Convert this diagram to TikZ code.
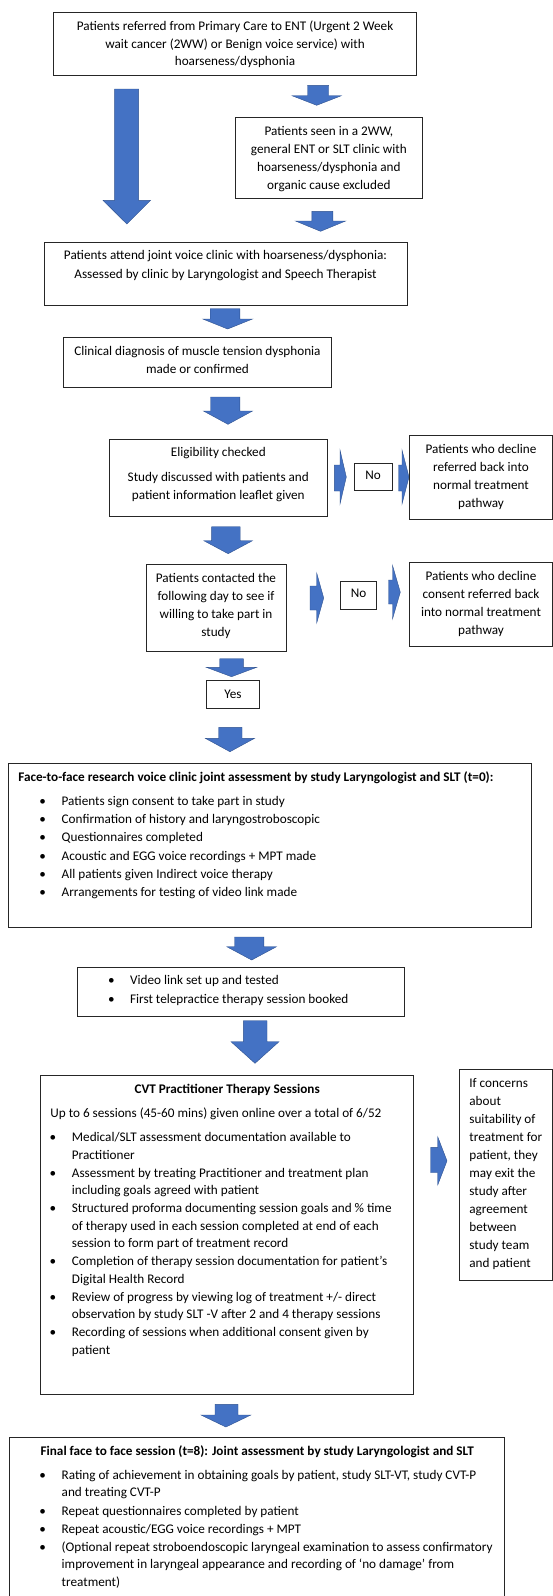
\documentclass[tikz,border=0pt]{standalone}
\usepackage{fontspec}
\setmainfont{Carlito}
\definecolor{arrfill}{HTML}{4472C4}
\definecolor{arrline}{HTML}{2F528F}
\tikzset{
  boxst/.style={draw=black!85, line width=0.8pt, inner sep=0pt, outer sep=0pt, rectangle},
  txt/.style={inner sep=0pt, outer sep=0pt, font=\fontsize{13.2}{18}\selectfont},
  blockarrow/.style={fill=arrfill, draw=arrline, line width=0.4pt, line join=miter},
}
\newcommand\mkbox[5]{\node[boxst, minimum width={(#4-#2)*1pt}, minimum height={(#5-#3)*1pt}] (#1) at ({(#2+#4)/2},{(#3+#5)/2}) {};}
\newcommand\darr[8]{\path[blockarrow] (#2,#4) -- (#3,#4) -- (#3,#7) -- (#6,#7) -- ({(#5+#6)/2},#8) -- (#5,#7) -- (#2,#7) -- cycle; \coordinate (#1) at ({(#5+#6)/2},#8);}
\newcommand\rarr[8]{\path[blockarrow] (#2,#5) -- (#3,#5) -- (#3,#7) -- (#4,{(#7+#8)/2}) -- (#3,#8) -- (#3,#6) -- (#2,#6) -- cycle; \coordinate (#1) at (#4,{(#7+#8)/2});}
\newcommand\lineat[4]{\node[txt,anchor=mid] (#1) at (#2,#3) {#4};}
\newcommand\lineatw[4]{\node[txt,anchor=mid west] (#1) at (#2,#3) {#4};}
\newcommand\bulline[5]{\node[txt,anchor=mid] (#1d) at (#2,#4) {\textbullet}; \node[txt,anchor=mid west] (#1) at (#3,#4) {#5};}
\begin{document}
\begin{tikzpicture}[x=1pt,y=-1pt]
\useasboundingbox (0,0) rectangle (553,1596);
\fill[white] (0,0) rectangle (553,1596);

% Box 1
\mkbox{b1}{53.6}{12.7}{416.5}{75.3}
\lineat{b1a}{235}{27.7}{Patients referred from Primary Care to ENT (Urgent 2 Week}
\lineat{b1b}{235}{45.7}{wait cancer (2WW) or Benign voice service) with}
\lineat{b1c}{235}{63.3}{hoarseness/dysphonia}

\darr{a0}{114.6}{138.6}{89}{103}{150.6}{200.3}{224}
\darr{a1}{307.5}{328.7}{85.3}{292}{341.4}{95.7}{105.3}

% Box 2
\mkbox{b2}{235.2}{117.3}{422.5}{198.3}
\lineat{b2a}{328.9}{132.7}{Patients seen in a 2WW,}
\lineat{b2b}{328.9}{150.7}{general ENT or SLT clinic with}
\lineat{b2c}{328.9}{168.7}{hoarseness/dysphonia and}
\lineat{b2d}{328.9}{186.7}{organic cause excluded}

\darr{a2}{311.8}{332.9}{211.3}{295.5}{345.6}{221}{231.3}

% Box 3
\mkbox{b3}{44.1}{242.3}{407}{305}
\lineat{b3a}{225.5}{256.7}{Patients attend joint voice clinic with hoarseness/dysphonia:}
\lineat{b3b}{225.5}{275.7}{Assessed by clinic by Laryngologist and Speech Therapist}

\darr{a3}{210.2}{239.8}{308.7}{202.8}{252.5}{319}{329}

% Box 4
\mkbox{b4}{63.8}{337.7}{331.2}{387}
\lineat{b4a}{197.5}{352.7}{Clinical diagnosis of muscle tension dysphonia}
\lineat{b4b}{197.5}{370.7}{made or confirmed}

\darr{a4}{210.5}{239.8}{397}{203.5}{252.5}{411}{424.3}

% Box 5
\mkbox{b5}{109}{439}{327.6}{516}
\lineat{b5a}{218.3}{454}{Eligibility checked}
\lineat{b5b}{218.3}{479.3}{Study discussed with patients and}
\lineat{b5c}{218.3}{497.3}{patient information leaflet given}

\rarr{n1a}{334.3}{340}{346.3}{465}{491}{450}{504}
\mkbox{n1}{354}{463.3}{392.3}{490.7}
\lineat{n1t}{373.2}{477}{No}
\rarr{n1b}{398.5}{402}{409}{465}{491}{450}{504}

\mkbox{d1}{409.5}{435.7}{552.3}{519}
\lineat{d1a}{481}{450.7}{Patients who decline}
\lineat{d1b}{481}{468.7}{referred back into}
\lineat{d1c}{481}{487}{normal treatment}
\lineat{d1d}{481}{505}{pathway}

\darr{a5}{211.6}{240.2}{526.7}{203.8}{252.5}{540.7}{553.7}

% Box 6
\mkbox{b6}{146.4}{564.3}{286}{651.7}
\lineat{b6a}{216}{580}{Patients contacted the}
\lineat{b6b}{216}{598}{following day to see if}
\lineat{b6c}{216}{616}{willing to take part in}
\lineat{b6d}{216}{634}{study}

\rarr{n2a}{310}{316.7}{323.7}{586}{610}{573}{623}
\mkbox{n2}{340.5}{581}{376.7}{609.3}
\lineat{n2t}{358.6}{595}{No}
\rarr{n2b}{388.5}{392.5}{400.3}{580}{604}{565.3}{619}

\mkbox{d2}{409.5}{562.3}{552.3}{646}
\lineat{d2a}{481}{577.7}{Patients who decline}
\lineat{d2b}{481}{596}{consent referred back}
\lineat{d2c}{481}{614}{into normal treatment}
\lineat{d2d}{481}{632}{pathway}

\darr{a6}{219.7}{243.3}{658.7}{206.3}{256.7}{667.3}{676.7}
\mkbox{yes}{206.7}{680.3}{259.6}{708.3}
\lineat{yest}{233}{695.7}{Yes}

\darr{a7}{218.7}{242}{727.3}{205.3}{254.6}{738.3}{751.7}

% Box 7
\mkbox{b7}{8.8}{763.7}{531.5}{927.3}
\lineatw{b7t}{18.3}{779.3}{\bfseries Face-to-face research voice clinic joint assessment by study Laryngologist and SLT (t=0):}
\bulline{b7i1}{42.7}{61.7}{803.3}{Patients sign consent to take part in study}
\bulline{b7i2}{42.7}{61.7}{821.3}{Confirmation of history and laryngostroboscopic}
\bulline{b7i3}{42.7}{61.7}{839.3}{Questionnaires completed}
\bulline{b7i4}{42.7}{61.7}{857.7}{Acoustic and EGG voice recordings + MPT made}
\bulline{b7i5}{42.7}{61.7}{875.7}{All patients given Indirect voice therapy}
\bulline{b7i6}{42.7}{61.7}{893.7}{Arrangements for testing of video link made}

\darr{a8}{234.5}{263.8}{937}{226.8}{276.5}{946.7}{960}

% Box 8
\mkbox{b8}{77.6}{967.7}{404.5}{1016}
\bulline{b8i1}{111.4}{130.1}{981.7}{Video link set up and tested}
\bulline{b8i2}{111.4}{130.1}{1000.7}{First telepractice therapy session booked}

\darr{a9}{243.3}{267}{1020.7}{231}{279}{1041.7}{1063.3}

% Box 9
\mkbox{b9}{40.6}{1075}{413.7}{1394.3}
\lineat{b9t}{227.2}{1090.7}{\bfseries CVT Practitioner Therapy Sessions}
\lineatw{b9u}{50.4}{1115.3}{Up to 6 sessions (45-60 mins) given online over a total of 6/52}
\bulline{b9i1}{52.9}{71.9}{1139.3}{Medical/SLT assessment documentation available to}
\lineatw{b9i1b}{71.9}{1156.7}{Practitioner}
\bulline{b9i2}{52.9}{71.9}{1175}{Assessment by treating Practitioner and treatment plan}
\lineatw{b9i2b}{71.9}{1192.3}{including goals agreed with patient}
\bulline{b9i3}{52.9}{71.9}{1210.3}{Structured proforma documenting session goals and \% time}
\lineatw{b9i3b}{71.9}{1228}{of therapy used in each session completed at end of each}
\lineatw{b9i3c}{71.9}{1245.3}{session to form part of treatment record}
\bulline{b9i4}{52.9}{71.9}{1263.3}{Completion of therapy session documentation for patient’s}
\lineatw{b9i4b}{71.9}{1280.7}{Digital Health Record}
\bulline{b9i5}{52.9}{71.9}{1299}{Review of progress by viewing log of treatment +/- direct}
\lineatw{b9i5b}{71.9}{1316.3}{observation by study SLT -V after 2 and 4 therapy sessions}
\bulline{b9i6}{52.9}{71.9}{1334.3}{Recording of sessions when additional consent given by}
\lineatw{b9i6b}{71.9}{1352}{patient}

\rarr{ca}{430.7}{437.7}{447}{1147.3}{1172.7}{1136.7}{1185}

\mkbox{c}{459.5}{1069.3}{552.3}{1280}
\lineatw{c1}{469.4}{1085}{If concerns}
\lineatw{c2}{469.4}{1103}{about}
\lineatw{c3}{469.4}{1121}{suitability of}
\lineatw{c4}{469.4}{1138.7}{treatment for}
\lineatw{c5}{469.4}{1157}{patient, they}
\lineatw{c6}{469.4}{1175}{may exit the}
\lineatw{c7}{469.4}{1193}{study after}
\lineatw{c8}{469.4}{1211}{agreement}
\lineatw{c9}{469.4}{1229}{between}
\lineatw{c10}{469.4}{1247}{study team}
\lineatw{c11}{469.4}{1265}{and patient}

\darr{a10}{215}{238}{1404.3}{201}{250.8}{1415}{1427}

% Box 10
\mkbox{b10}{9.2}{1437.7}{504.7}{1600}
\lineatw{b10t}{40.6}{1453}{\bfseries Final face to face session (t=8): Joint assessment by study Laryngologist and SLT}
\bulline{b10i1}{42.7}{61.7}{1477}{Rating of achievement in obtaining goals by patient, study SLT-VT, study CVT-P}
\lineatw{b10i1b}{61.7}{1494.3}{and treating CVT-P}
\bulline{b10i2}{42.7}{61.7}{1512.7}{Repeat questionnaires completed by patient}
\bulline{b10i3}{42.7}{61.7}{1530.7}{Repeat acoustic/EGG voice recordings + MPT}
\bulline{b10i4}{42.7}{61.7}{1549}{(Optional repeat stroboendoscopic laryngeal examination to assess confirmatory}
\lineatw{b10i4b}{61.7}{1566.3}{improvement in laryngeal appearance and recording of ‘no damage’ from}
\lineatw{b10i4c}{61.7}{1583.7}{treatment)}
\end{tikzpicture}
\end{document}
